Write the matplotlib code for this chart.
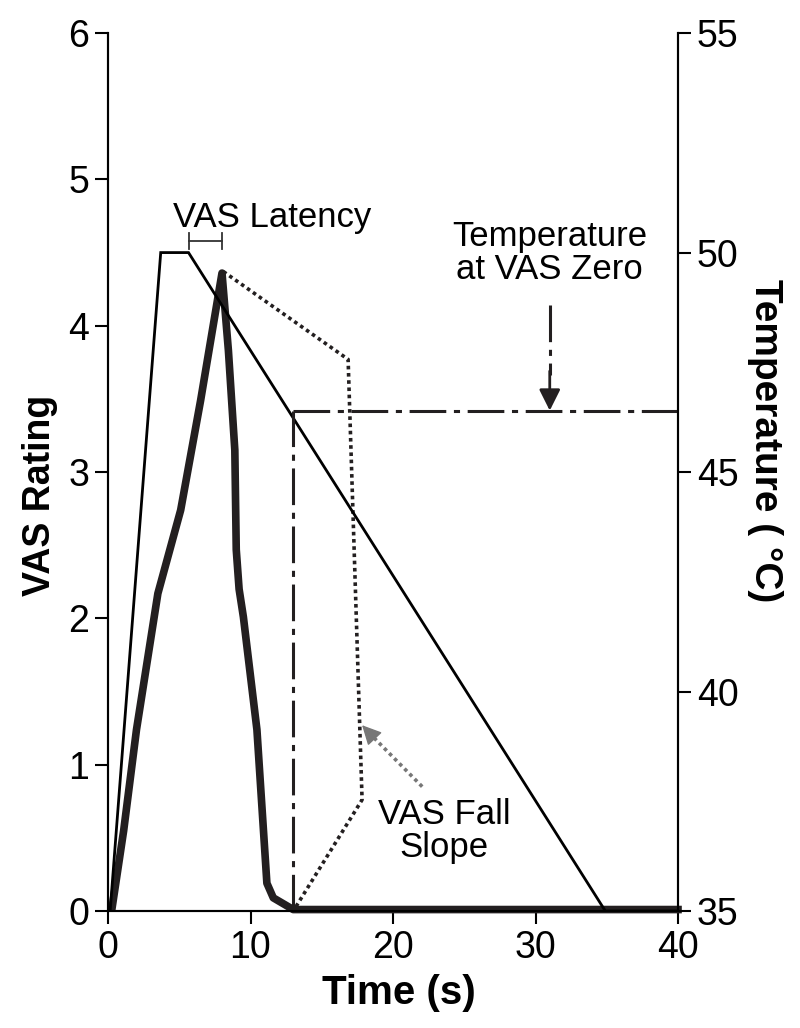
import matplotlib.pyplot as plt

plt.rcParams['font.family'] = ['Liberation Sans', 'DejaVu Sans']

# temperature trace (deg C)
temp_time = [0.15, 3.7, 5.65, 34.9, 40]
temp_vals = [35, 50, 50, 35, 35]

# VAS rating trace
vas_time = [0.3, 1.1, 2.0, 3.5, 5.1, 6.5, 8.0, 8.45, 8.9, 9.0, 9.2, 9.5, 10.45, 11.15, 11.6, 13.0, 40]
vas_vals = [0.03, 0.55, 1.24, 2.17, 2.74, 3.49, 4.36, 3.83, 3.15, 2.47, 2.2, 2.01, 1.24, 0.19, 0.09, 0.01, 0.01]

# VAS fall slope (dotted)
fall_time = [8.1, 16.85, 17.83, 13.0]
fall_vals = [4.37, 3.77, 0.76, 0.0]

# latency and VAS zero markers
latency = [5.7, 8.0]
latency_y = 4.58
t_zero = 13.0
temp_zero = 46.4

fig = plt.figure(figsize=(8, 10.28), dpi=100)
ax = fig.add_axes([0.135, 0.1138, 0.7125, 0.8540])
ax2 = ax.twinx()

ax.set_xlim(0, 40)
ax.set_ylim(0, 6)
ax2.set_ylim(35, 55)

dd = (0, (12, 2.5, 2, 2.5))

ax2.plot(temp_time, temp_vals, color='black', lw=2, solid_joinstyle='miter')
ax.plot(vas_time, vas_vals, color='#231f20', lw=5.5, clip_on=False, zorder=5,
        solid_joinstyle='round')
ax.plot(fall_time, fall_vals, color='#231f20', lw=2.6, linestyle=(0, (1, 1)))

# temperature at VAS zero
ax2.plot([t_zero, t_zero], [35, temp_zero], color='#231f20', lw=2.2, linestyle=dd)
ax2.plot([t_zero, 40], [temp_zero, temp_zero], color='#231f20', lw=2.2, linestyle=dd)

# latency bracket
ax.plot(latency, [latency_y, latency_y], color='#333333', lw=1.3)
for t in latency:
    ax.plot([t, t], [latency_y - 0.055, latency_y + 0.055], color='#333333', lw=1.3)

# annotations
ax.text(11.5, 4.74, 'VAS Latency', ha='center', va='center', fontsize=25)
ax2.text(31, 50.0, 'Temperature\nat VAS Zero', ha='center', va='center',
         fontsize=25, linespacing=1.0)
ax2.plot([31, 31], [48.8, 47.2], color='#231f20', lw=2.2, linestyle=dd)
ax2.annotate('', xy=(31, temp_zero), xytext=(31, 47.3),
             arrowprops=dict(arrowstyle='-|>', color='#231f20', lw=2,
                             mutation_scale=32, shrinkA=0, shrinkB=0))

ax.text(23.6, 0.55, 'VAS Fall\nSlope', ha='center', va='center',
        fontsize=25, linespacing=1.0)
ax.plot([22.05, 18.5], [0.85, 1.2], color='#777777', lw=2.6, linestyle=(0, (1, 1)))
ax.annotate('', xy=(17.83, 1.27), xytext=(18.6, 1.19),
            arrowprops=dict(arrowstyle='-|>', color='#777777', lw=1,
                            mutation_scale=30, shrinkA=0, shrinkB=0))

for a in (ax, ax2):
    a.spines['top'].set_visible(False)
    for s in a.spines.values():
        s.set_linewidth(1.5)
    a.tick_params(width=1.5, length=9.5, labelsize=27, pad=4)

ax.set_xticks([0, 10, 20, 30, 40])
ax.set_yticks([0, 1, 2, 3, 4, 5, 6])
ax2.set_yticks([35, 40, 45, 50, 55])

ax.set_xlabel('Time (s)', fontsize=29, fontweight='bold', va='center', ha='center')
ax.xaxis.set_label_coords(0.51, -0.093)
ax.set_ylabel('VAS Rating', fontsize=27, fontweight='bold', va='center', ha='center')
ax.yaxis.set_label_coords(-0.119, 0.474)
ax2.set_ylabel('Temperature ( \u00b0C)', fontsize=28, fontweight='bold',
               rotation=270, va='center', ha='center')
ax2.yaxis.set_label_coords(1.153, 0.536)

fig.savefig('out.png', dpi=100)
